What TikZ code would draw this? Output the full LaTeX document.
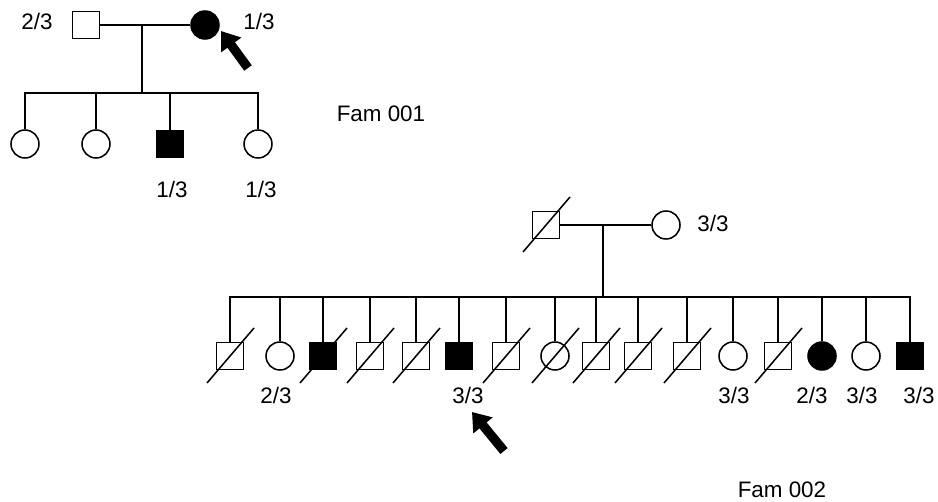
\documentclass[tikz,border=0pt]{standalone}
\usepackage{fontspec}
\setmainfont{Liberation Sans}
\usetikzlibrary{arrows.meta}
\newcommand\deadmark[1]{\draw ([shift={(-23,27)}]#1.center) -- ([shift={(24,-28)}]#1.center);}
\begin{document}
\begin{tikzpicture}[x=0.75pt,y=-0.75pt, line width=1.15pt,
  male/.style={draw, rectangle, minimum size=20pt, inner sep=0pt},
  female/.style={draw, circle, minimum size=21pt, inner sep=0pt},
  maleaff/.style={male, fill=black},
  femaleaff/.style={female, fill=black},
  lbl/.style={font=\fontsize{16.8}{19}\selectfont, anchor=base, inner sep=0pt},
  pointer/.style={line width=7pt, -{Triangle[length=13pt,width=18pt]}}
]
\useasboundingbox (0,0) rectangle (938,502);

% ---------------- Fam 001 ----------------
\node[male] (f1) at (86,25) {};
\node[femaleaff] (m1) at (205,25) {};
\draw (f1) -- (m1);
\coordinate (d1) at (142,25);
\coordinate (s1) at (142,93);
\draw (d1) -- (s1);
\node[female] (a1) at (25,144) {};
\node[female] (a2) at (96,144) {};
\node[maleaff] (a3) at (170,144) {};
\node[female] (a4) at (258,144) {};
\draw (a1.north) |- (s1) -| (a4.north);
\draw (a2.north) -- (a2.north |- s1);
\draw (a3.north) -- (a3.north |- s1);

\node[lbl] (l11) at (37,30) {2/3};
\node[lbl] (l12) at (259,30) {1/3};
\node[lbl] (l13) at (172,198) {1/3};
\node[lbl] (l14) at (261,198) {1/3};
\node[lbl, anchor=base west] (fam1) at (336,122) {Fam 001};

\coordinate (p1tail) at (248,68);
\coordinate (p1tip) at (221,31);
\draw[pointer] (p1tail) -- (p1tip);

% ---------------- Fam 002 ----------------
\node[male] (f2) at (546,225) {};
\deadmark{f2}
\node[female] (m2) at (666,225) {};
\draw (f2) -- (m2);
\coordinate (d2) at (603,225);
\coordinate (s2) at (603,297);
\draw (d2) -- (s2);
\node[lbl] (l21) at (713,232) {3/3};

\foreach \i/\x/\s in {1/230/male, 2/280/female, 3/323/maleaff, 4/370/male,
  5/416/male, 6/459/maleaff, 7/506/male, 8/555/female, 9/596/male,
  10/638/male, 11/687/male, 12/733/female, 13/778/male, 14/822/femaleaff,
  15/866/female, 16/910/maleaff}
  {\node[\s] (c\i) at (\x,356) {};}
\draw (c1.north) |- (s2) -| (c16.north);
\foreach \i in {2,...,15}
  {\draw (c\i.north) -- (c\i.north |- s2);}
\foreach \i in {1,3,4,5,7,8,9,10,11,13}
  {\deadmark{c\i}}

\node[lbl] (l22) at (276,403) {2/3};
\node[lbl] (l23) at (468,403) {3/3};
\node[lbl] (l24) at (734,403) {3/3};
\node[lbl] (l25) at (812,403) {2/3};
\node[lbl] (l26) at (862,403) {3/3};
\node[lbl] (l27) at (919,403) {3/3};
\node[lbl, anchor=base west] (fam2) at (737,497) {Fam 002};

\coordinate (p2tail) at (504,451);
\coordinate (p2tip) at (472,412);
\draw[pointer] (p2tail) -- (p2tip);
\end{tikzpicture}
\end{document}
